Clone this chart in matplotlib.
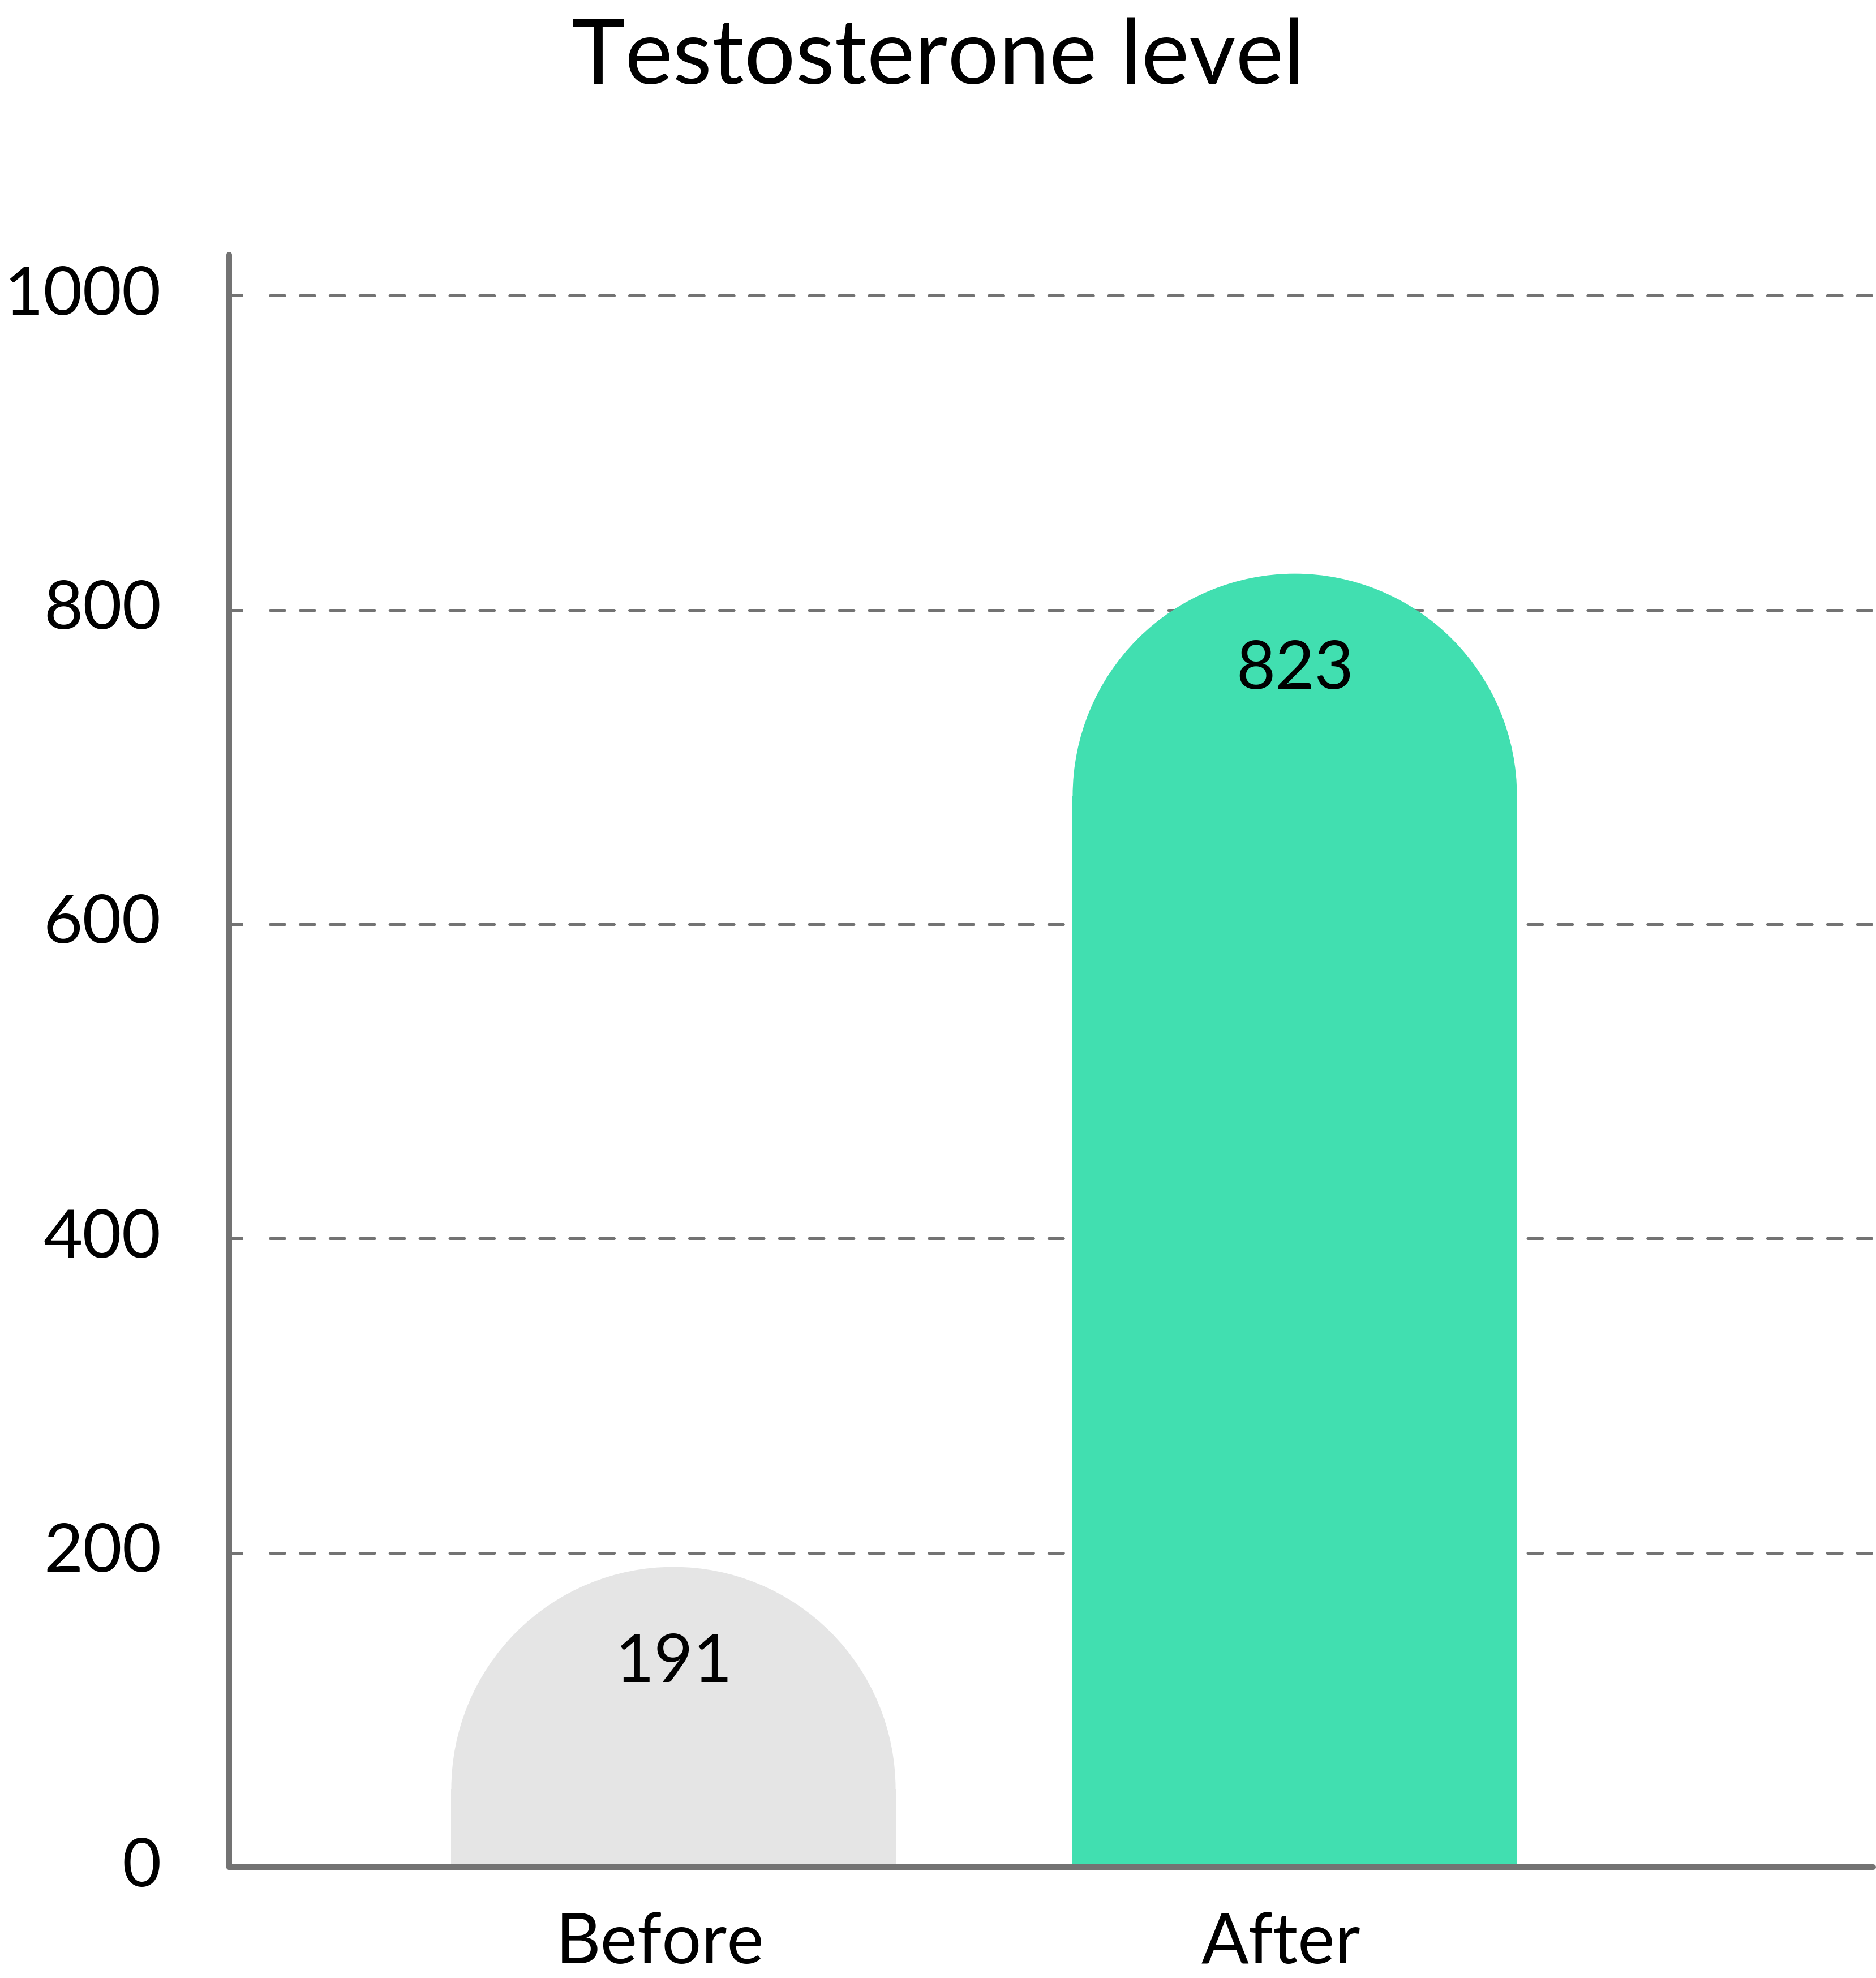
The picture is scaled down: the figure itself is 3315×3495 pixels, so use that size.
import matplotlib
matplotlib.use("Agg")
import matplotlib.pyplot as plt
from matplotlib.patches import Ellipse
from matplotlib.transforms import blended_transform_factory

# data
categories = ["Before", "After"]
values = [191, 823]
colors = ["#e5e5e5", "#41dfb0"]
yticks = [0, 200, 400, 600, 800, 1000]
title = "Testosterone level"

plt.rcParams["font.family"] = ["Lato", "DejaVu Sans"]
plt.rcParams["lines.scale_dashes"] = False

W, H = 3315, 3495
grey = "#737373"

fig = plt.figure(figsize=(W / 100, H / 100), dpi=100)
ax = fig.add_axes([404.5 / W, 1 - 3299 / H, (3310 - 404.5) / W, (3299 - 450) / H])

x = list(range(len(categories)))
bw = 0.715
ax.set_xlim(-0.7154, 1.9308)
ax.set_ylim(0, 1026)

# radius of the round top in y units, so the cap is a true half circle
p0 = ax.transData.transform((0, 0))
px_x = ax.transData.transform((1, 0))[0] - p0[0]
px_y = ax.transData.transform((0, 1))[1] - p0[1]
ry = bw / 2 * px_x / px_y

for xi, v, c in zip(x, values, colors):
    ax.bar(xi, v - ry, width=bw, color=c, linewidth=0, zorder=2)
    ax.add_patch(Ellipse((xi, v - ry), bw, 2 * ry, color=c, linewidth=0, zorder=2))
    ax.annotate(str(v), (xi, v), xytext=(0, -122), textcoords="offset points",
                ha="center", va="center", fontsize=86, zorder=3)

# dashed grid lines
ax.hlines(yticks[1:], -0.649, 1.9308, colors=grey, linewidth=3.6,
          linestyles=(0, (18.7, 19.4)), capstyle="round", zorder=1)

for s in ["top", "right"]:
    ax.spines[s].set_visible(False)
for s in ["left", "bottom"]:
    ax.spines[s].set_color(grey)
    ax.spines[s].set_linewidth(7.2)
    ax.spines[s].set_capstyle("round")
    ax.spines[s].set_zorder(4)

ax.set_yticks(yticks)
ax.set_yticklabels([str(t) for t in yticks], va="center")
ax.tick_params(axis="y", direction="in", length=17.3, width=3.6, color=grey,
               pad=86, labelsize=86)
ax.set_xticks([])

tr = blended_transform_factory(ax.transData, fig.transFigure)
for xi, name in zip(x, categories):
    ax.text(xi - 0.022, 1 - 3469 / H, name, transform=tr, ha="center",
            va="baseline", fontsize=89)

fig.text(0.5, 1 - 148 / H, title, ha="center", va="baseline", fontsize=115)

fig.savefig("out.png", dpi=100)
